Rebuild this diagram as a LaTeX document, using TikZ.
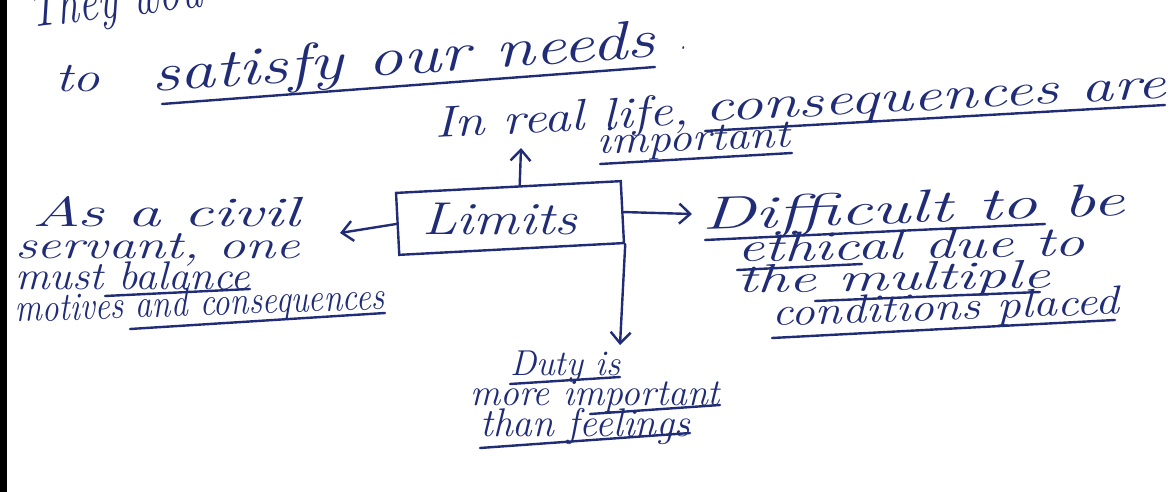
\documentclass[tikz,border=0pt]{standalone}
\usepackage{graphicx}
\usetikzlibrary{arrows.meta,calc}
\definecolor{ink}{RGB}{32,44,118}
% width-fitted handwriting line: #1 width (pt), #2 font size (pt), #3 text
\newcommand\hwt[3]{\fontsize{#2}{#2}\selectfont\resizebox{#1pt}{\height}{\itshape #3}}
\tikzset{
  hw/.style={text=ink, inner sep=0pt, anchor=base west},
  uline/.style={draw=ink, line width=2.4pt, line cap=round},
  conn/.style={draw=ink, line width=2.4pt, line cap=round, -{Straight Barb[length=11pt,width=20pt,line width=2.4pt]}},
  limitbox/.style={draw=ink, line width=2.4pt, minimum width=225pt, minimum height=62pt, inner sep=0pt}
}
\begin{document}
\begin{tikzpicture}[x=1pt,y=-1pt]
\useasboundingbox (0,0) rectangle (1175,492);
\fill[white] (0,0) rectangle (1175,492);
\fill[black] (0,0) rectangle (7,492);
% top (cut off by the page edge)
\node[hw,rotate=7] (they) at (30,28) {\hwt{175}{56}{They wou}};
\node[hw] (to) at (55,92) {\hwt{45}{42}{to}};
\node[hw,rotate=4] (satisfy) at (152,92) {\hwt{505}{54}{satisfy our needs}};
\node[hw] (dot) at (680,50) {\hwt{6}{30}{.}};
\draw[uline] (162,104) -- (655,67);
\node[hw,rotate=3] (real) at (435,138) {\hwt{255}{44}{In real life,}};
\node[hw,rotate=3] (conseq) at (705,122) {\hwt{462}{46}{consequences are}};
\draw[uline] (705,131) -- (1165,105);
\node[hw,rotate=2] (imp) at (597,154) {\hwt{193}{40}{important}};
\draw[uline] (600,164) -- (792,153);
% box
\node[limitbox,rotate=3] (limits) at (510,218) {};
\node[hw] (limtxt) at (422,234) {\hwt{155}{46}{Limits}};
\coordinate (uptip) at (521,148);
\draw[conn] ($(limits.north west)!0.55!(limits.north east)$) -- (uptip);
% left
\node[hw] (l1) at (32,226) {\hwt{268}{42}{As a civil}};
\node[hw] (l2) at (15,258) {\hwt{285}{40}{servant, one}};
\node[hw] (l3) at (15,289) {\hwt{235}{40}{must balance}};
\node[hw,rotate=2] (l4) at (15,322) {\hwt{370}{40}{motives and consequences}};
\draw[uline] (105,296) -- (250,289);
\draw[uline] (130,329) -- (385,313);
\coordinate (ltip) at (340,233);
\draw[conn] (limits.west) -- (ltip);
% right
\coordinate (rtip) at (692,214);
\draw[conn] (limits.east) -- (rtip);
\node[hw,rotate=2] (r1) at (702,230) {\hwt{423}{46}{Difficult to be}};
\node[hw,rotate=1] (r2) at (737,262) {\hwt{348}{42}{ethical due to}};
\node[hw,rotate=1] (r3) at (737,293) {\hwt{313}{40}{the multiple}};
\node[hw,rotate=2] (r4) at (772,326) {\hwt{348}{40}{conditions placed}};
\draw[uline] (705,240) -- (1045,224);
\draw[uline] (737,270) -- (862,264);
\draw[uline] (815,301) -- (1040,292);
\draw[uline] (772,338) -- (1115,320);
% bottom
\coordinate (dtip) at (620,345);
\draw[conn] (limits.south east) -- (dtip);
\node[hw] (b1) at (510,375) {\hwt{110}{36}{Duty is}};
\node[hw] (b2) at (470,405) {\hwt{250}{38}{more important}};
\node[hw] (b3) at (480,436) {\hwt{210}{40}{than feelings}};
\draw[uline] (510,384) -- (620,377);
\draw[uline] (590,414) -- (720,405);
\draw[uline] (480,448) -- (690,433);
\end{tikzpicture}
\end{document}
